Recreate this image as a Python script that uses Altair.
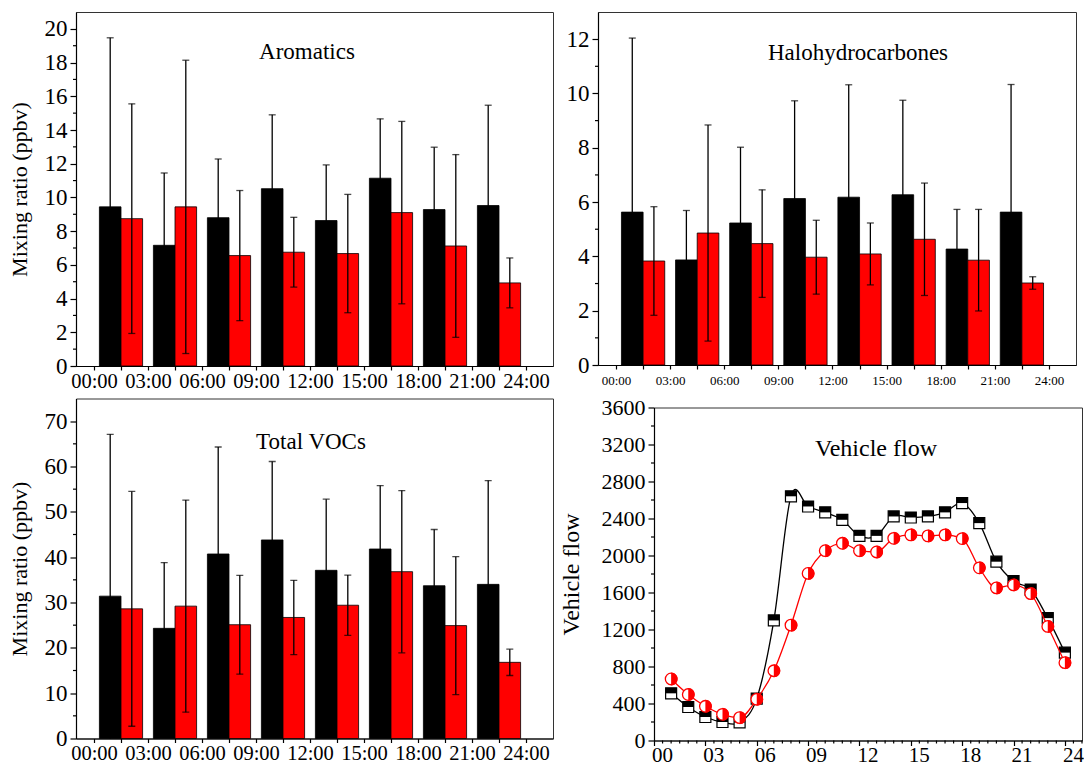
import json
import altair as alt
import pandas as pd

FONT = "Liberation Serif"

# ---------------- data ----------------
hour_start = [0, 3, 6, 9, 12, 15, 18, 21]
time_labels = ["00:00", "03:00", "06:00", "09:00", "12:00", "15:00", "18:00", "21:00", "24:00"]
hour_labels = ["00", "03", "06", "09", "12", "15", "18", "21", "24"]

arom_black = [9.44, 7.16, 8.80, 10.52, 8.63, 11.14, 9.28, 9.52]
arom_black_sd = [10.03, 4.29, 3.48, 4.38, 3.30, 3.52, 3.70, 5.95]
arom_red = [8.74, 9.44, 6.55, 6.75, 6.67, 9.10, 7.12, 4.93]
arom_red_sd = [6.81, 8.70, 3.86, 2.07, 3.51, 5.41, 5.42, 1.48]

halo_black = [5.63, 3.87, 5.23, 6.13, 6.18, 6.27, 4.27, 5.63]
halo_black_sd = [6.41, 1.82, 2.79, 3.60, 4.14, 3.48, 1.46, 4.70]
halo_red = [3.83, 4.86, 4.47, 3.97, 4.09, 4.63, 3.86, 3.02]
halo_red_sd = [2.00, 3.98, 1.98, 1.36, 1.14, 2.07, 1.87, 0.23]

voc_black = [31.4, 24.3, 40.7, 43.8, 37.1, 41.8, 33.7, 34.0]
voc_black_sd = [35.7, 14.5, 23.6, 17.3, 15.7, 14.0, 12.4, 22.9]
voc_red = [28.6, 29.2, 25.1, 26.7, 29.4, 36.8, 24.9, 16.8]
voc_red_sd = [25.9, 23.4, 10.9, 8.2, 6.65, 17.9, 15.2, 2.9]

veh_hours = [1, 2, 3, 4, 5, 6, 7, 8, 9, 10, 11, 12, 13, 14, 15, 16, 17, 18, 19, 20, 21, 22, 23, 24]
veh_black = [510, 362, 254, 200, 195, 453, 1298, 2640, 2530, 2466, 2386, 2212,
             2212, 2422, 2411, 2422, 2466, 2567, 2350, 1933, 1722, 1632, 1323, 950]
veh_red = [665, 497, 370, 283, 247, 446, 754, 1247, 1806, 2052, 2132, 2052,
           2038, 2186, 2223, 2212, 2223, 2183, 1867, 1650, 1682, 1588, 1233, 841]


def minor_y_ticks(values, yscale, length=3):
    d = pd.DataFrame({"m": values})
    return alt.Chart(d).mark_rule(color="black", strokeWidth=1.2).encode(
        y=alt.Y("m:Q", scale=yscale),
        x=alt.value(-length), x2=alt.value(0),
    )


def bar_panel(black, black_sd, red, red_sd, ymax, ymajor, yminor, name,
              tx, ty, w, h, xfont, xpad, ytitle=None):
    rows = []
    for i, s in enumerate(hour_start):
        rows.append({"s": "b", "x0": s + 0.3, "x1": s + 1.5, "xc": s + 0.9,
                     "v": black[i], "lo": black[i] - black_sd[i], "hi": black[i] + black_sd[i]})
        rows.append({"s": "r", "x0": s + 1.5, "x1": s + 2.7, "xc": s + 2.1,
                     "v": red[i], "lo": red[i] - red_sd[i], "hi": red[i] + red_sd[i]})
    df = pd.DataFrame(rows)

    xscale = alt.Scale(domain=[-1, 25.5], nice=False, zero=False)
    yscale = alt.Scale(domain=[0, ymax], nice=False)
    xvals = [i * 1.5 for i in range(17)]
    lab_arr = json.dumps(time_labels)
    xaxis = alt.Axis(values=xvals, tickCount=100,
                     labelExpr=f"datum.value % 3 === 0 ? {lab_arr}[datum.value / 3] : ''",
                     labelFontSize=xfont, labelPadding=xpad, tickSize=4,
                     labelOverlap=False, labelFlush=False, title=None)
    ykw = dict(values=list(range(0, ymax, ymajor)), tickCount=100, tickSize=6, format="d",
               labelFontSize=23, labelPadding=3, labelOverlap=False, labelFlush=False)
    if ytitle:
        ykw.update(title=ytitle, titleFontSize=22, titlePadding=13)
    else:
        ykw.update(title=None)
    yaxis = alt.Axis(**ykw)
    minor_vals = [v for v in range(0, ymax, yminor) if v % ymajor != 0]

    base = alt.Chart(df)
    bars = base.mark_bar(stroke="black", strokeWidth=0.8).encode(
        x=alt.X("x0:Q", scale=xscale, axis=xaxis),
        x2="x1:Q",
        y=alt.Y("v:Q", scale=yscale, axis=yaxis),
        y2=alt.datum(0),
        color=alt.Color("s:N", scale=alt.Scale(domain=["b", "r"], range=["#000000", "#ff0000"]), legend=None),
    )
    rule = base.mark_rule(color="black", strokeWidth=1.3, clip=True).encode(
        x=alt.X("xc:Q", scale=xscale),
        y=alt.Y("lo:Q", scale=yscale),
        y2="hi:Q",
    )
    cap_t = base.mark_tick(orient="horizontal", size=7, thickness=1.3, color="black", clip=True).encode(
        x=alt.X("xc:Q", scale=xscale),
        y=alt.Y("hi:Q", scale=yscale),
    )
    cap_b = base.mark_tick(orient="horizontal", size=7, thickness=1.3, color="black", clip=True).encode(
        x=alt.X("xc:Q", scale=xscale),
        y=alt.Y("lo:Q", scale=yscale),
    )
    ttl = alt.Chart(pd.DataFrame({"t": [name]})).mark_text(
        font=FONT, fontSize=23, align="center", baseline="middle", color="black"
    ).encode(text="t:N", x=alt.value(tx), y=alt.value(ty))
    return alt.layer(bars, rule, cap_t, cap_b, minor_y_ticks(minor_vals, yscale), ttl).properties(width=w, height=h)


arom = bar_panel(arom_black, arom_black_sd, arom_red, arom_red_sd, 21, 2, 1, "Aromatics",
                 231, 40, 477, 354, 20.5, 1, "Mixing ratio (ppbv)")
halo = bar_panel(halo_black, halo_black_sd, halo_red, halo_red_sd, 13, 2, 1, "Halohydrocarbones",
                 260, 41, 478, 353, 13, 5)
voc = bar_panel(voc_black, voc_black_sd, voc_red, voc_red_sd, 75, 10, 5, "Total VOCs",
                235, 43, 477, 340, 20.5, 1, "Mixing ratio (ppbv)")

# ---------------- vehicle flow ----------------
VW, VH = 428, 333
vdf = pd.DataFrame({"h": veh_hours, "b": veh_black, "r": veh_red})
vx = alt.Scale(domain=[0, 25], nice=False, zero=False)
vy = alt.Scale(domain=[0, 3600], nice=False)
hl = json.dumps(hour_labels)
vxaxis = alt.Axis(values=[0, 3, 6, 9, 12, 15, 18, 21, 24], tickCount=100,
                  labelExpr=f"{hl}[datum.value / 3]",
                  tickSize=5, labelFontSize=21, labelPadding=-1.5, labelOffset=8,
                  labelOverlap=False, labelFlush=False, title=None)
vyaxis = alt.Axis(values=list(range(0, 3601, 400)), tickCount=100, tickSize=6,
                  labelFontSize=22, labelPadding=3, labelOverlap=False, labelFlush=False,
                  title="Vehicle flow", titleFontSize=24, titlePadding=18, format="d")

vbase = alt.Chart(vdf)
line_b = vbase.mark_line(color="black", strokeWidth=1.3, interpolate="cardinal").encode(
    x=alt.X("h:Q", scale=vx, axis=vxaxis), y=alt.Y("b:Q", scale=vy, axis=vyaxis))
sq_w = vbase.mark_point(shape="square", filled=True, fill="white", stroke="black",
                        strokeWidth=1.2, size=121, opacity=1).encode(
    x=alt.X("h:Q", scale=vx), y=alt.Y("b:Q", scale=vy))
sq_t = vbase.mark_point(shape="M-1,-1L1,-1L1,0L-1,0Z", filled=True, color="black",
                        size=121, opacity=1).encode(
    x=alt.X("h:Q", scale=vx), y=alt.Y("b:Q", scale=vy))
line_r = vbase.mark_line(color="#ff0000", strokeWidth=1.3, interpolate="monotone").encode(
    x=alt.X("h:Q", scale=vx), y=alt.Y("r:Q", scale=vy))
ci_w = vbase.mark_point(shape="circle", filled=True, fill="white", stroke="#ff0000",
                        strokeWidth=1.3, size=133, opacity=1).encode(
    x=alt.X("h:Q", scale=vx), y=alt.Y("r:Q", scale=vy))
ci_h = vbase.mark_point(shape="M0,-1A1,1 0 0,1 0,1Z", filled=True, color="#ff0000",
                        size=169, opacity=1).encode(
    x=alt.X("h:Q", scale=vx), y=alt.Y("r:Q", scale=vy))
vminor_y = minor_y_ticks([v for v in range(200, 3600, 400)], vy)
vminor_x = alt.Chart(pd.DataFrame({"m": [v * 0.5 for v in range(51) if v % 6 != 0]})).mark_rule(
    color="black", strokeWidth=1.2).encode(
    x=alt.X("m:Q", scale=vx), y=alt.value(VH), y2=alt.value(VH + 3))
vttl = alt.Chart(pd.DataFrame({"t": ["Vehicle flow"]})).mark_text(
    font=FONT, fontSize=24, align="center", baseline="middle", color="black"
).encode(text="t:N", x=alt.value(222), y=alt.value(41))
veh = alt.layer(line_b, sq_w, sq_t, line_r, ci_w, ci_h, vminor_y, vminor_x, vttl).properties(width=VW, height=VH)

spacer = alt.Chart(pd.DataFrame({"a": [0]})).mark_point(opacity=0).encode(
    x=alt.X("a:Q", axis=None), y=alt.Y("a:Q", axis=None)
).properties(width=VW, height=9, view=alt.ViewBackground(stroke="transparent"))

row1 = alt.hconcat(arom, halo, spacing=45, bounds="flush")
row2 = alt.hconcat(voc, alt.vconcat(spacer, veh, spacing=0, bounds="flush"), spacing=101, bounds="flush")

chart = alt.vconcat(row1, row2, spacing=3.5).properties(
    padding={"left": 7, "top": 11, "right": 0, "bottom": 0},
    background="white",
).configure_view(
    stroke="#333333", strokeWidth=1
).configure_axis(
    domainColor="black", domainWidth=1.2, tickColor="black", tickWidth=1.2,
    labelFont=FONT, titleFont=FONT, labelColor="black", titleColor="black",
    titleFontWeight="normal", grid=False,
)

chart.save("out.html", embed_options={"renderer": "svg", "actions": False})
